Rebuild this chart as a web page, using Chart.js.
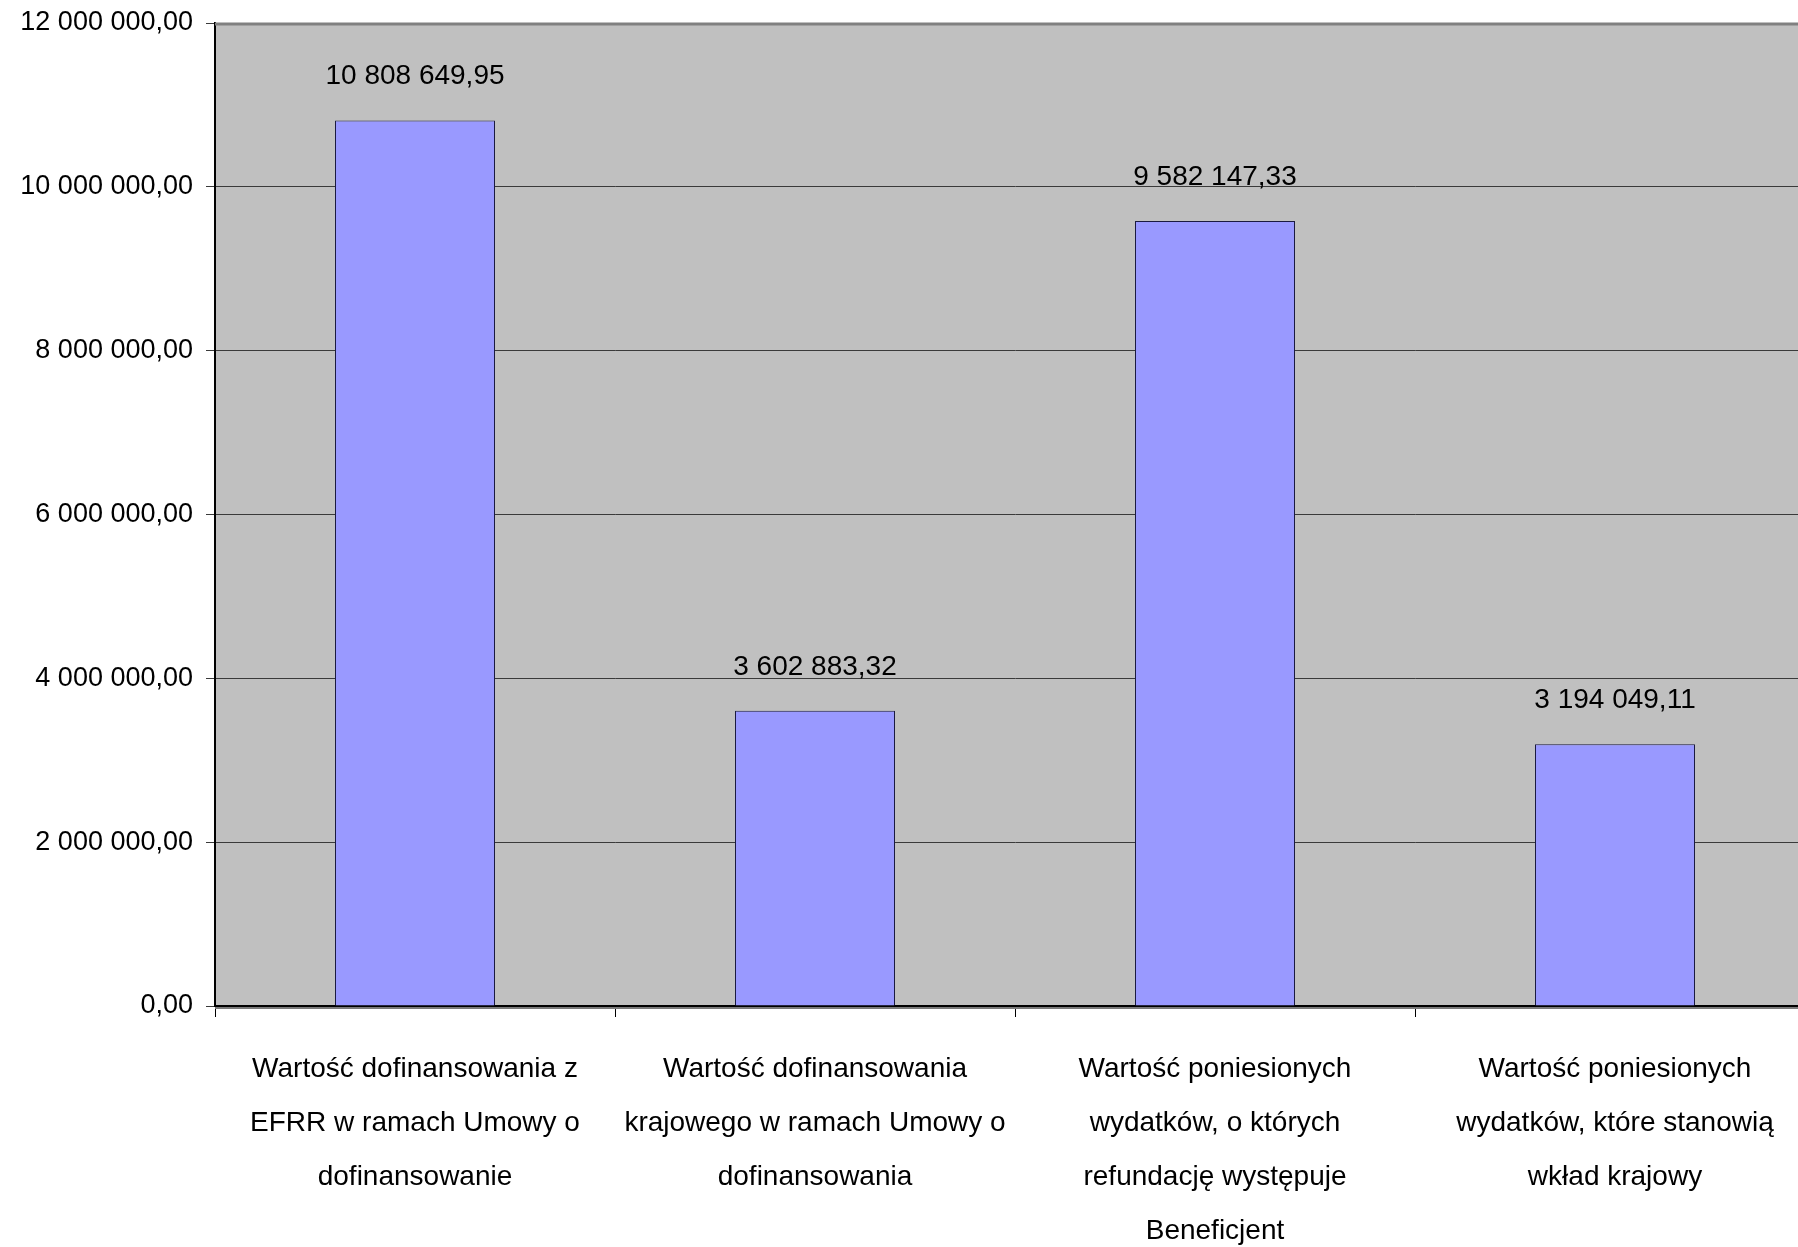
<!DOCTYPE html>
<html>
<head>
<meta charset="utf-8">
<script src="https://cdn.jsdelivr.net/npm/chart.js@4.4.1/dist/chart.umd.min.js"></script>
<style>
  html, body { margin: 0; padding: 0; background: #fff; overflow: hidden; }
  #wrap { position: absolute; left: 0; top: 0; width: 1815px; height: 1247px; }
</style>
</head>
<body>
<div id="wrap"><canvas id="chart"></canvas></div>
<script>
// Category labels (split into lines like the original)
const categories = [
    ['Wartość dofinansowania z', 'EFRR w ramach Umowy o', 'dofinansowanie'],
    ['Wartość dofinansowania', 'krajowego w ramach Umowy o', 'dofinansowania'],
    ['Wartość poniesionych', 'wydatków, o których', 'refundację występuje', 'Beneficjent'],
    ['Wartość poniesionych', 'wydatków, które stanowią', 'wkład krajowy']
];

// Values of the bars
const values = [10808649.95, 3602883.32, 9582147.33, 3194049.11];

// Y axis range
const yMin = 0;
const yMax = 12000000;
const yStep = 2000000;

// Polish number format: "10 808 649,95"
function formatPl(n) {
    const parts = n.toFixed(2).split('.');
    const intPart = parts[0].replace(/\B(?=(\d{3})+(?!\d))/g, ' ');
    return intPart + ',' + parts[1];
}

// Grey plot background and border
const plotArea = {
    id: 'plotArea',
    beforeDraw(chart) {
        const { ctx, chartArea: a } = chart;
        ctx.save();
        ctx.fillStyle = '#c0c0c0';
        ctx.fillRect(a.left, a.top, a.right - a.left, a.bottom - a.top);
        ctx.restore();
    },
    afterDatasetsDraw(chart) {
        const { ctx, chartArea: a } = chart;
        ctx.save();
        ctx.strokeStyle = '#808080';
        ctx.lineWidth = 3;
        ctx.beginPath();
        ctx.moveTo(a.left, a.top + 1);
        ctx.lineTo(a.right, a.top + 1);
        ctx.stroke();
        ctx.strokeStyle = '#7a7a7a';
        ctx.lineWidth = 2;
        ctx.beginPath();
        ctx.moveTo(a.left, a.bottom + 2);
        ctx.lineTo(a.right, a.bottom + 2);
        ctx.stroke();
        ctx.restore();
    }
};

// Value labels above bars
const valueLabels = {
    id: 'valueLabels',
    afterDatasetsDraw(chart) {
        const { ctx } = chart;
        const meta = chart.getDatasetMeta(0);
        ctx.save();
        ctx.font = '28px "Liberation Sans", Arial, sans-serif';
        ctx.fillStyle = '#000';
        ctx.textAlign = 'center';
        ctx.textBaseline = 'middle';
        meta.data.forEach((bar, i) => {
            ctx.fillText(formatPl(values[i]), bar.x, bar.y - 44);
        });
        ctx.restore();
    }
};

const config = {
    type: 'bar',
    data: {
        labels: categories,
        datasets: [{
            data: values,
            backgroundColor: '#9999ff',
            borderColor: '#1a1a40',
            borderWidth: 1,
            barPercentage: 0.4,
            categoryPercentage: 1.0
        }]
    },
    options: {
        responsive: true,
        maintainAspectRatio: false,
        animation: false,
        layout: { padding: { top: 23, right: 0, left: 0, bottom: 0 } },
        plugins: {
            legend: { display: false },
            tooltip: { enabled: false }
        },
        scales: {
            x: {
                offset: true,
                grid: {
                    offset: true,
                    drawOnChartArea: false,
                    drawTicks: true,
                    tickLength: 11,
                    color: '#000'
                },
                border: { color: '#000', width: 2 },
                ticks: {
                    color: '#000',
                    maxRotation: 0,
                    autoSkip: false,
                    padding: 25,
                    font: { family: '"Liberation Sans", Arial, sans-serif', size: 28, lineHeight: 1.93 }
                },
                afterFit(scale) { scale.height = 241; }
            },
            y: {
                min: yMin,
                max: yMax,
                grid: {
                    color: '#3a3a3a',
                    lineWidth: 1,
                    tickLength: 9
                },
                border: { color: '#000', width: 2 },
                ticks: {
                    stepSize: yStep,
                    color: '#000',
                    padding: 13,
                    font: { family: '"Liberation Sans", Arial, sans-serif', size: 27 },
                    callback: v => formatPl(v)
                },
                afterFit(scale) {
                    scale.width = 215;
                    scale.paddingTop = 0;
                    scale.paddingBottom = 0;
                }
            }
        }
    },
    plugins: [plotArea, valueLabels]
};

const chart = new Chart(document.getElementById('chart'), config);
</script>
</body>
</html>
